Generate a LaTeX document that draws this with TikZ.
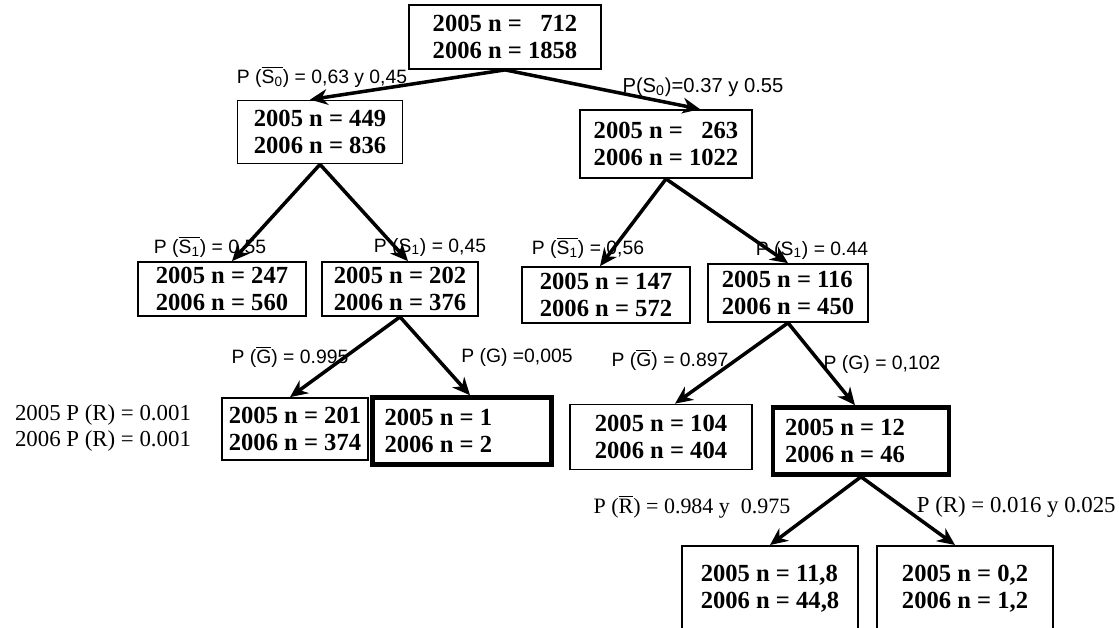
\documentclass[tikz,border=0pt]{standalone}
\usepackage{fontspec}
\setmainfont{Liberation Serif}
\setsansfont{Liberation Sans}
\usetikzlibrary{arrows.meta}

\newcommand{\ovl}[1]{$\overline{\hbox{#1}}$}

\begin{document}
\begin{tikzpicture}[x=0.02cm, y=-0.02cm, >={Stealth[length=10pt, width=9pt]},
  cell/.style={draw, line width=1pt, align=left, inner xsep=0.14cm, inner ysep=0pt,
    font=\fontsize{14}{15.5}\selectfont\bfseries},
  hot/.style={cell, line width=2.6pt, align=flush left, inner xsep=0.24cm},
  prob/.style={font=\sffamily\fontsize{11}{12}\selectfont, inner sep=0pt},
  rprob/.style={font=\fontsize{12.5}{14}\selectfont, inner sep=0pt},
  arr/.style={->, line width=2pt}]

  \useasboundingbox (0,0) rectangle (1119,627);

  % Boxes: name/x/y/width/height/2005/2006
  \foreach \nm/\x/\y/\w/\h/\na/\nb in {
      root/505/37/192/64/\phantom{1}712/1858,
      a/320/132/165/63/449/836,
      b/666/144/172/68/\phantom{1}263/1022,
      c/222/289/168/54/247/560,
      d/400/289/156/54/202/376,
      e/606/295/168/56/147/572,
      f/788/293/160/58/116/450,
      g/295/429/146/62/201/374,
      i/661/437/182/65/104/404}{
    \node[cell, minimum width=\w*0.02cm, minimum height=\h*0.02cm] (\nm) at (\x,\y)
      {2005 n = \na\\2006 n = \nb};
  }
  % Boxes with heavy frame
  \foreach \nm/\x/\y/\w/\h/\na/\nb in {h/462/431/181/67/1/2, j/861/441/178/67/12/46}{
    \pgfmathsetmacro\tw{(\w-26)*0.02}
    \node[hot, text width=\tw cm, minimum height=\h*0.02cm] (\nm) at (\x,\y)
      {2005 n = \na\\2006 n = \nb};
  }
  % Last level, cut by the page edge
  \foreach \nm/\x/\na/\nb in {k/770/{11,8}/{44,8}, l/965/{0,2}/{1,2}}{
    \node[cell, anchor=north, minimum width=3.52cm, minimum height=1.72cm] (\nm) at (\x,545)
      {2005 n = \na\\2006 n = \nb};
  }

  % Arrows: parent/child/shift of the tip
  \foreach \p/\c/\dx in {root/a/-10, root/b/34, a/c/10, a/d/8, b/e/-6, b/f/0,
      d/g/-5, d/h/8, f/i/14, f/j/-6, j/k/0, j/l/-10}{
    \draw[arr] (\p.south) -- ([xshift=\dx*0.02cm]\c.north);
  }

  % Branch probabilities
  \node[prob] (ps0n) at (322,77) {P (\ovl{S\textsubscript{0}}) = 0,63 y 0,45};
  \node[prob, font=\sffamily\fontsize{11.5}{12}\selectfont] (ps0) at (703,87)
    {P(S\textsubscript{0})=0.37 y 0.55};
  \node[prob] (ps1na) at (210,247) {P (\ovl{S\textsubscript{1}}) = 0.55};
  \node[prob] (ps1a) at (430,247) {P (S\textsubscript{1}) = 0,45};
  \node[prob] (ps1nb) at (588,248) {P (\ovl{S\textsubscript{1}}) = 0,56};
  \node[prob] (ps1b) at (812,250) {P (S\textsubscript{1}) = 0.44};
  \node[prob] (pgna) at (290,357) {P (\ovl{G}) = 0.995};
  \node[prob] (pga) at (517,357) {P (G) =0,005};
  \node[prob] (pgnb) at (670,360) {P (\ovl{G}) = 0.897};
  \node[prob] (pgb) at (882,364) {P (G) = 0,102};
  \node[rprob] (prn) at (692,507) {P (\ovl{R}) = 0.984 y\ \ 0.975};
  \node[rprob, anchor=east, font=\fontsize{13}{14}\selectfont] (pr) at (1116,507)
    {P (R) = 0.016 y 0.025};

  % Note on the left
  \node[rprob, align=left, font=\fontsize{13}{14.5}\selectfont] (note) at (103,428)
    {2005 P (R) = 0.001\\2006 P (R) = 0.001};
\end{tikzpicture}
\end{document}
